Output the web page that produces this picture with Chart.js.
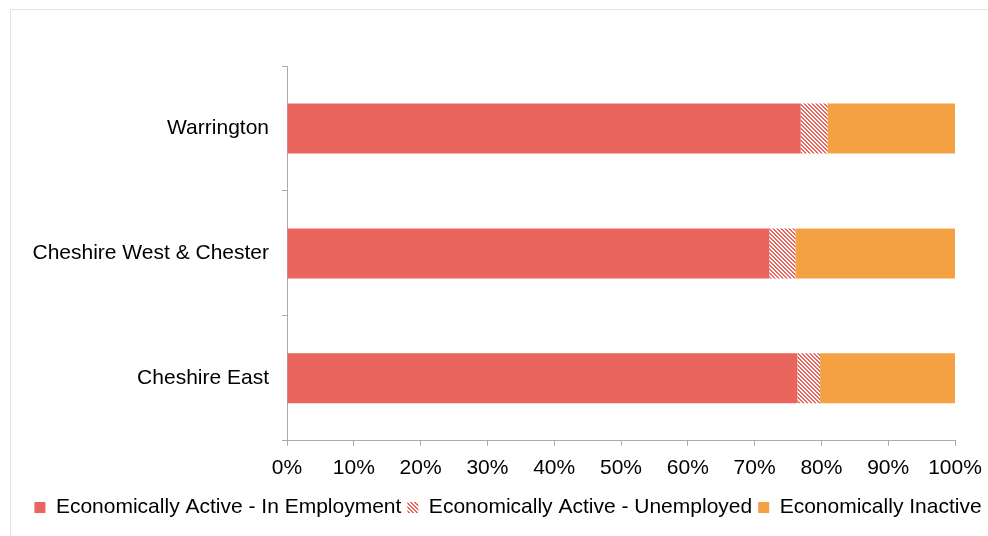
<!DOCTYPE html>
<html lang="en">
<head>
  <meta charset="UTF-8">
  <title>Economic activity - Cheshire &amp; Warrington</title>
  <script src="https://cdn.jsdelivr.net/npm/chart.js"></script>
  <style>
    body {
      margin: 0;
      padding: 0;
      background: #ffffff;
      overflow: hidden;
    }

    #frame {
      position: absolute;
      left: 10px;
      top: 9px;
      width: 1000px;
      height: 600px;
      border: 1.5px solid #e3e3e3;
    }

    #wrap {
      position: absolute;
      left: 0;
      top: 0;
      width: 988px;
      height: 536px;
    }
  </style>
</head>
<body>

  <div id="frame"></div>
  <div id="wrap">
    <canvas id="myChart" width="988" height="536"></canvas>
  </div>

  <script>
    // data (percent of population aged 16-64)
    var areas = ['Warrington', 'Cheshire West & Chester', 'Cheshire East'];
    var inEmployment = [76.9, 72.2, 76.4];
    var unemployed = [4.0, 3.9, 3.4];
    var inactive = [19.1, 23.9, 20.2];
    var seriesNames = ['Economically Active - In Employment', 'Economically Active - Unemployed', 'Economically Inactive'];
    var xTicks = [0, 10, 20, 30, 40, 50, 60, 70, 80, 90, 100];

    var red = '#EA655D';
    var orange = '#F4A143';
    var axisGrey = '#ababab';

    // small diagonal hatch, red on white
    function makeHatch() {
      var c = document.createElement('canvas');
      c.width = 4;
      c.height = 4;
      var cx = c.getContext('2d');
      var img = cx.createImageData(4, 4);
      for (var y = 0; y < 4; y++) {
        for (var x = 0; x < 4; x++) {
          var i = (y * 4 + x) * 4;
          var on = ((x - y + 8) % 4) < 2;
          img.data[i] = on ? 234 : 255;
          img.data[i + 1] = on ? 101 : 255;
          img.data[i + 2] = on ? 93 : 255;
          img.data[i + 3] = 255;
        }
      }
      cx.putImageData(img, 0, 0);
      return document.getElementById('myChart').getContext('2d').createPattern(c, 'repeat');
    }

    // nudge the legend row a little to the right, like the original
    var legendShift = {
      id: 'legendShift',
      afterLayout: function (chart) {
        chart.legend.left += 14;
        chart.legend.right += 14;
      }
    };

    Chart.defaults.font.family = '"Liberation Sans", Arial, sans-serif';
    Chart.defaults.font.size = 21;
    Chart.defaults.color = '#000000';

    var ctx = document.getElementById('myChart').getContext('2d');

    var myChart = new Chart(ctx, {
      type: 'bar',
      data: {
        labels: areas,
        datasets: [{
          label: seriesNames[0],
          data: inEmployment,
          backgroundColor: red,
          borderWidth: 0
        }, {
          label: seriesNames[1],
          data: unemployed,
          backgroundColor: makeHatch(),
          borderWidth: 0
        }, {
          label: seriesNames[2],
          data: inactive,
          backgroundColor: orange,
          borderWidth: 0
        }]
      },
      plugins: [legendShift],
      options: {
        indexAxis: 'y',
        responsive: false,
        animation: false,
        layout: {
          padding: { left: 0, right: 0, top: 66, bottom: 8 }
        },
        datasets: {
          bar: {
            barPercentage: 0.4,
            categoryPercentage: 1.0
          }
        },
        scales: {
          x: {
            stacked: true,
            min: 0,
            max: 100,
            afterBuildTicks: function (scale) {
              scale.ticks = xTicks.map(function (v) { return { value: v }; });
            },
            afterFit: function (scale) {
              scale.paddingRight = 33;
            },
            ticks: {
              padding: 10,
              maxRotation: 0,
              callback: function (v) { return v + '%'; }
            },
            grid: {
              drawOnChartArea: false,
              drawTicks: true,
              tickLength: 5,
              color: axisGrey
            },
            border: {
              display: true,
              color: axisGrey,
              width: 1
            }
          },
          y: {
            stacked: true,
            afterFit: function (scale) {
              scale.width = 287;
            },
            ticks: {
              padding: 13
            },
            grid: {
              offset: true,
              drawOnChartArea: false,
              drawTicks: true,
              tickLength: 5,
              color: axisGrey
            },
            border: {
              display: true,
              color: axisGrey,
              width: 1
            }
          }
        },
        plugins: {
          tooltip: { enabled: false },
          legend: {
            position: 'bottom',
            labels: {
              boxWidth: 11,
              boxHeight: 11,
              padding: 6,
              color: '#000000'
            }
          }
        }
      }
    });
  </script>

</body>
</html>
